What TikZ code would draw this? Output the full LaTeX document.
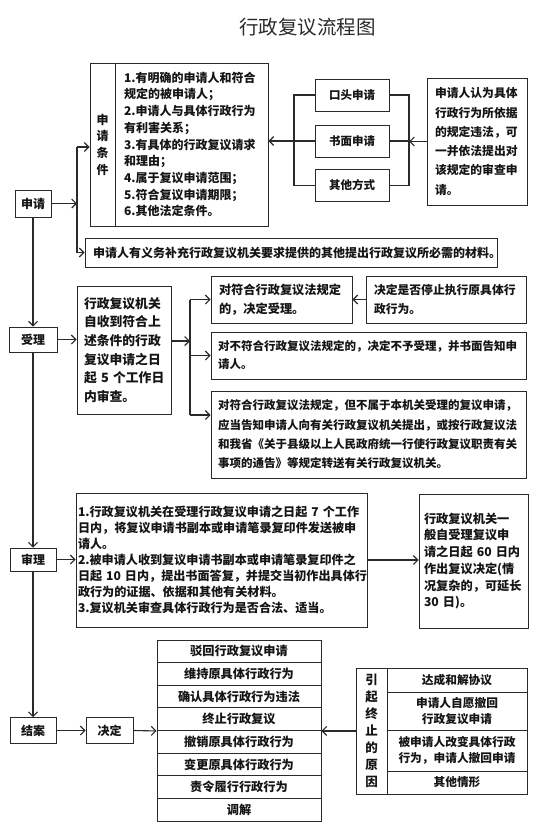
\documentclass[tikz,border=0pt]{standalone}
\usepackage{fontspec}
\setmainfont{Noto Sans CJK SC}
\usetikzlibrary{arrows.meta}
\definecolor{linec}{HTML}{2A2A2A}
\definecolor{txtc}{HTML}{151515}
\newcommand\myfs[2]{\fontsize{#1}{#2}\selectfont\bfseries}
\begin{document}
\begin{tikzpicture}[x=1pt,y=-1pt,
  bx/.style={draw=linec, line width=0.9pt, inner sep=0pt, text=txtc},
  stage/.style={bx, font=\myfs{12}{14}},
  tb/.style={bx, align=left},
  cell/.style={bx, align=center, minimum width=164pt, minimum height=22.625pt, font=\myfs{12.2}{14}},
  trow/.style={bx, align=center, minimum width=140pt, font=\myfs{11.7}{15.5}},
  meth/.style={bx, minimum width=74pt, minimum height=32pt, font=\myfs{11.5}{14}},
  arr/.style={draw=linec, line width=1.1pt, -{Straight Barb[length=4.5pt,width=9pt]}},
  ln/.style={draw=linec, line width=1.1pt}
]
\fill[white] (0,0) rectangle (554,825);
\useasboundingbox (0,0) rectangle (554,825);

% title
\node[text=linec, font=\fontsize{19.5}{22}\selectfont] (title) at (307.5,27) {行政复议流程图};

% stages
\node[stage, minimum width=36pt, minimum height=27pt] (sq) at (33,203.5) {申请};
\node[stage, minimum width=48pt, minimum height=25pt] (sl) at (33,339.5) {受理};
\node[stage, minimum width=46pt, minimum height=23pt] (sc) at (33,559.5) {审理};
\node[stage, minimum width=46pt, minimum height=26pt] (ja) at (33,730.5) {结案};
\node[stage, minimum width=47pt, minimum height=26pt] (jd) at (109.5,730.5) {决定};

% application
\node[bx, align=center, minimum width=25pt, minimum height=163pt, font=\myfs{12}{16.7}] (condl) at (102.5,144.5) {申\\请\\条\\件};
\node[tb, minimum width=153pt, minimum height=163pt, text width=135pt, inner xsep=9pt, font=\myfs{12}{16.7}] (condt) at (191.5,144.5)
 {1.有明确的申请人和符合\\规定的被申请人；\\2.申请人与具体行政行为\\有利害关系；\\3.有具体的行政复议请求\\和理由；\\4.属于复议申请范围；\\5.符合复议申请期限；\\6.其他法定条件。};
\node[meth] (m1) at (352,95) {口头申请};
\node[meth] (m2) at (352,141) {书面申请};
\node[meth] (m3) at (352,185.5) {其他方式};
\node[tb, minimum width=100pt, minimum height=127pt, text width=84pt, inner xsep=8pt, font=\myfs{11.8}{19.3}] (note) at (477,141.5)
 {申请人认为具体\\行政行为所依据\\的规定违法，可\\一并依法提出对\\该规定的审查申\\请。};
\node[tb, minimum width=412pt, minimum height=29pt, text width=396pt, inner xsep=8pt, font=\myfs{12}{14}] (bott) at (291,252.5)
 {申请人有义务补充行政复议机关要求提供的其他提出行政复议所必需的材料。};

\coordinate (tr1) at (77,203.5);
\coordinate (trT) at (77,147);
\coordinate (trB) at (77,252.5);
\coordinate (bl) at (294,141);
\coordinate (br) at (409,141);

\draw[arr] (sq.east) -- (tr1);
\draw[ln] (trT) -- (trB);
\draw[arr] (trT) -- (trT -| condl.west);
\draw[arr] (trB) -- (bott.west);
\draw[ln] (m1.west) -- (m1.west -| bl) -- (m3.west -| bl) -- (m3.west);
\draw[ln] (m2.west) -- (bl);
\draw[arr] (bl) -- (bl -| condt.east);
\draw[ln] (m1.east) -- (m1.east -| br) -- (m3.east -| br) -- (m3.east);
\draw[ln] (m2.east) -- (br);
\draw[arr] (note.west) -- (note.west -| br);

% acceptance
\node[tb, minimum width=94pt, minimum height=128pt, text width=80pt, inner xsep=7pt, font=\myfs{12.8}{18.7}] (acc) at (124,350)
 {行政复议机关\\自收到符合上\\述条件的行政\\复议申请之日\\起~5~个工作日\\内审查。};
\node[tb, minimum width=141pt, minimum height=47pt, text width=125pt, inner xsep=8pt, font=\myfs{12.2}{19}] (ba) at (281.5,299.5)
 {对符合行政复议法规定\\的，决定受理。};
\node[tb, minimum width=160pt, minimum height=47pt, text width=144pt, inner xsep=8pt, font=\myfs{11.8}{19}] (bb) at (446,299.5)
 {决定是否停止执行原具体行\\政行为。};
\node[tb, minimum width=315pt, minimum height=47pt, text width=301pt, inner xsep=7pt, font=\myfs{11.5}{18}] (bc) at (368.5,355.5)
 {对不符合行政复议法规定的，决定不予受理，并书面告知申\\请人。};
\node[tb, minimum width=315pt, minimum height=87pt, text width=301pt, inner xsep=7pt, font=\myfs{11.5}{19.3}] (bd) at (368.5,434.5)
 {对符合行政复议法规定，但不属于本机关受理的复议申请，\\应当告知申请人向有关行政复议机关提出，或按行政复议法\\和我省《关于县级以上人民政府统一行使行政复议职责有关\\事项的通告》等规定转送有关行政复议机关。};

\coordinate (ab) at (190,341);
\coordinate (aD) at (190,415);
\draw[arr] (sq.south) -- (sl.north);
\draw[arr] (sl.east) -- (sl.east -| acc.west);
\draw[arr] (ab -| acc.east) -- (ab);
\draw[ln] (ba.west -| ab) -- (aD);
\draw[arr] (ba.west -| ab) -- (ba.west);
\draw[arr] (bc.west -| ab) -- (bc.west);
\draw[arr] (aD) -- (aD -| bd.west);
\draw[arr] (bb.west) -- (ba.east);

% review
\node[tb, minimum width=291pt, minimum height=134pt, text width=287pt, inner xsep=2pt, font=\myfs{12.1}{16}] (rev) at (221.5,560)
 {1.行政复议机关在受理行政复议申请之日起~7~个工作\\日内，将复议申请书副本或申请笔录复印件发送被申\\请人。\\2.被申请人收到复议申请书副本或申请笔录复印件之\\日起~10~日内，提出书面答复，并提交当初作出具体行\\政行为的证据、依据和其他有关材料。\\3.复议机关审查具体行政行为是否合法、适当。};
\node[tb, minimum width=109pt, minimum height=134pt, text width=99pt, inner xsep=5pt, font=\myfs{12.2}{16.7}] (rr) at (473.5,561)
 {行政复议机关一\\般自受理复议申\\请之日起~60~日内\\作出复议决定(情\\况复杂的，可延长\\30~日)。};
\draw[arr] (sl.south) -- (sc.north);
\draw[arr] (sc.east) -- (sc.east -| rev.west);
\draw[arr] (rev.east) -- (rev.east -| rr.west);

% conclusion
\draw[arr] (sc.south) -- (ja.north);
\draw[arr] (ja.east) -- (jd.west);
\node[cell] (r1) at (239,651.31) {驳回行政复议申请};
\node[cell] (r2) at (239,673.94) {维持原具体行政行为};
\node[cell] (r3) at (239,696.56) {确认具体行政行为违法};
\node[cell] (r4) at (239,719.19) {终止行政复议};
\node[cell] (r5) at (239,741.81) {撤销原具体行政行为};
\node[cell] (r6) at (239,764.44) {变更原具体行政行为};
\node[cell] (r7) at (239,787.06) {责令履行行政行为};
\node[cell] (r8) at (239,809.69) {调解};
\draw[arr] (jd.east) -- (r4.south west);

\node[bx, align=center, minimum width=31pt, minimum height=126pt, font=\myfs{12.5}{17}] (tl) at (371.5,731)
 {引\\起\\终\\止\\的\\原\\因};
\node[trow, minimum height=24pt] (t1) at (457,680) {达成和解协议};
\node[trow, minimum height=38pt] (t2) at (457,711) {申请人自愿撤回\\行政复议申请};
\node[trow, minimum height=41pt] (t3) at (457,750.5) {被申请人改变具体行政\\行为，申请人撤回申请};
\node[trow, minimum height=23pt] (t4) at (457,782.5) {其他情形};
\draw[arr] (tl.west |- r4.south east) -- (r4.south east);
\end{tikzpicture}
\end{document}
